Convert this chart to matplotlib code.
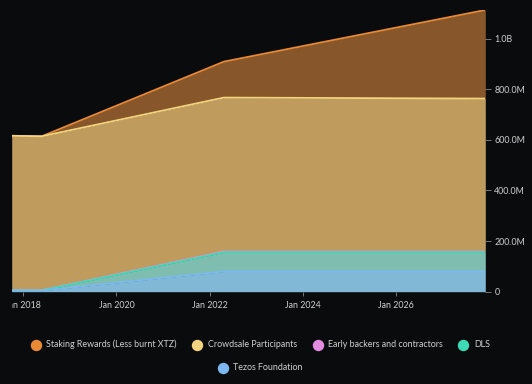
import matplotlib
matplotlib.use("Agg")
import matplotlib.pyplot as plt
import matplotlib.dates as mdates
import numpy as np
import pandas as pd
from matplotlib.ticker import FuncFormatter
from matplotlib.transforms import Bbox, TransformedBbox

# ---- data (millions of XTZ, stacked bottom -> top) -------------------------
dates = pd.to_datetime(["2017-10-01", "2018-05-25", "2022-04-24", "2027-12-06"])
foundation = [4, 4, 80, 80]
dls = [1, 1, 76, 76]
early_backers = [1, 1, 3, 3]
crowdsale = [610, 608, 608, 604]
staking = [0, 0, 142, 350]

series_names = ["Tezos Foundation", "DLS", "Early backers and contractors",
                "Crowdsale Participants", "Staking Rewards (Less burnt XTZ)"]
fill_colors = ["#80b8d5", "#7fbdb1", "#c896c0", "#bf9b5e", "#87562a"]
line_colors = ["#7db8f0", "#3ddbb5", "#e38ce0", "#f2d47e", "#e88a35"]

BG = "#0a0b0d"
TXT = "#d0d0d0"
FONT = ["Lato", "DejaVu Sans"]

fig = plt.figure(figsize=(5.32, 3.84), dpi=100, facecolor=BG)
ax = fig.add_axes([11.7 / 532, 92.3 / 384, (485.3 - 11.7) / 532, (291.7 - 10) / 384])
ax.set_facecolor(BG)

layers = np.array([foundation, dls, early_backers, crowdsale, staking], dtype=float) * 1e6
cum = np.cumsum(layers, axis=0)
x = mdates.date2num(dates)

base = np.zeros(len(x))
for i in range(len(layers)):
    ax.fill_between(x, base, cum[i], color=fill_colors[i], lw=0, zorder=1)
    base = cum[i]

# edge lines: top layers first so lower layer lines sit above them
for i in [4, 3, 2, 1, 0]:
    ax.plot(x, cum[i], color=line_colors[i], lw=1.3, zorder=2 + (4 - i) * 0.1,
            solid_joinstyle="round", solid_capstyle="butt")

ax.set_xlim(x[0], x[-1])
ax.set_ylim(0, 1113e6)

for s in ax.spines.values():
    s.set_visible(False)

ax.yaxis.tick_right()
ax.set_yticks([0, 200e6, 400e6, 600e6, 800e6, 1000e6])


def fmt_y(v, _):
    if v == 0:
        return "0"
    if v >= 1e9:
        return f"{v / 1e9:.1f}B"
    return f"{v / 1e6:.1f}M"


ax.yaxis.set_major_formatter(FuncFormatter(fmt_y))
ax.xaxis.set_major_locator(mdates.YearLocator(2, month=1, day=1))
ax.xaxis.set_major_formatter(mdates.DateFormatter("Jan %Y"))

ax.tick_params(axis="y", colors="#888888", labelcolor=TXT, labelsize=6.4,
               length=4, width=0.6, pad=2.5)
ax.tick_params(axis="x", colors="#888888", labelcolor=TXT, labelsize=6.4,
               length=3, width=0.6, pad=4)
for lab in ax.get_yticklabels() + ax.get_xticklabels():
    lab.set_fontfamily(FONT)

fig.canvas.draw()
clip = TransformedBbox(Bbox([[11.7 / 532, 0], [1, 1]]), fig.transFigure)
for lab in ax.get_xticklabels():
    lab.set_clip_box(clip)
    lab.set_clip_on(True)

# ---- legend (two centred rows) ----------------------------------------------
legend_rows = [
    [(4, 36.0), (3, 197.3), (2, 317.7), (1, 463.3)],
    [(0, 222.7)],
]
row_y = [344.7, 367.7]
for row, yy in zip(legend_rows, row_y):
    for idx, xx in row:
        fig.add_artist(plt.Line2D([xx / 532], [1 - yy / 384], marker="o",
                                  markersize=7.2, color=line_colors[idx], lw=0,
                                  transform=fig.transFigure))
        fig.text((xx + 10.5) / 532, 1 - yy / 384, series_names[idx],
                 color=TXT, fontsize=6.4, va="center", ha="left", family=FONT)

fig.savefig("out.png", dpi=100, facecolor=BG)
